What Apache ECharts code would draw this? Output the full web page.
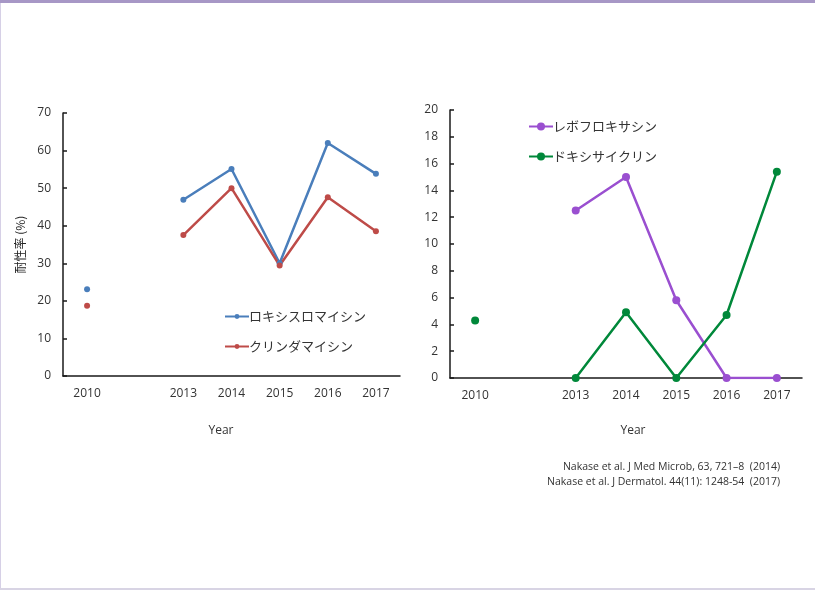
<!DOCTYPE html>
<html>
<head>
<meta charset="utf-8">
<script src="https://cdn.jsdelivr.net/npm/echarts@6/dist/echarts.min.js"></script>
<style>
  html, body { margin: 0; padding: 0; background: #fff; }
  #chart { width: 815px; height: 590px; }
</style>
</head>
<body>
<div id="chart"></div>
<script>
// Years on both panels; the blank slot keeps the gap between 2010 and 2013
const years = ['2010', '', '2013', '2014', '2015', '2016', '2017'];

// Macrolide / lincosamide resistance (%)
const roxithromycin = [23.1, null, 46.9, 55.1, 30.0, 62.0, 53.8];
const clindamycin   = [18.7, null, 37.5, 50.0, 29.4, 47.6, 38.5];

// Quinolone / tetracycline resistance (%)
const levofloxacin  = [null, null, 12.5, 15.0, 5.8, 0, 0];
const doxycycline   = [4.3, null, 0, 4.9, 0, 4.7, 15.4];

const leftTicks  = { min: 0, max: 70, interval: 10 };
const rightTicks = { min: 0, max: 20, interval: 2 };

const names = {
  rox: 'ロキシスロマイシン',
  cli: 'クリンダマイシン',
  lvx: 'レボフロキサシン',
  dox: 'ドキシサイクリン'
};

const refs = [
  'Nakase et al. J Med Microb, 63, 721\u20138  (2014)',
  'Nakase et al. J Dermatol. 44(11): 1248-54  (2017)'
];

const axisColor = '#1a1a1a';
const labelColor = '#333333';
const baseFont = '"Liberation Sans Narrow", "Open Sans", sans-serif';
const jpFont = '"Noto Sans CJK JP", sans-serif';

function xAxis(gridIndex) {
  return {
    type: 'category', gridIndex, data: years,
    boundaryGap: true,
    axisLine: { lineStyle: { color: axisColor, width: 1.5 } },
    axisTick: { inside: true, length: 5, lineStyle: { color: axisColor, width: 1.5 } },
    axisLabel: { color: labelColor, fontSize: 12, fontFamily: baseFont, margin: 12 },
    splitLine: { show: false }
  };
}

function yAxis(gridIndex, t, extra) {
  return Object.assign({
    type: 'value', gridIndex, min: t.min, max: t.max, interval: t.interval,
    axisLine: { show: true, lineStyle: { color: axisColor, width: 1.5 } },
    axisTick: { show: true, inside: true, length: 4, lineStyle: { color: axisColor, width: 1.5 } },
    axisLabel: { color: labelColor, fontSize: 12, fontFamily: baseFont, margin: 12 },
    splitLine: { show: false }
  }, extra || {});
}

function lineSeries(name, data, color, xi, size, width) {
  return {
    type: 'line', name, data,
    xAxisIndex: xi, yAxisIndex: xi,
    symbol: 'circle', symbolSize: size,
    connectNulls: false,
    lineStyle: { color, width },
    itemStyle: { color },
    emphasis: { disabled: true },
    animation: false
  };
}

const chart = echarts.init(document.getElementById('chart'), null, { renderer: 'canvas' });

chart.setOption({
  backgroundColor: '#ffffff',
  animation: false,
  grid: [
    { left: 63, right: 415, top: 113, bottom: 214 },
    { left: 450, right: 13, top: 110, bottom: 212 }
  ],
  xAxis: [xAxis(0), xAxis(1)],
  yAxis: [
    yAxis(0, leftTicks, {
      name: '耐性率 (%)', nameLocation: 'middle', nameGap: 37, nameRotate: 90,
      nameTextStyle: { color: '#222', fontSize: 12, fontFamily: jpFont }
    }),
    yAxis(1, rightTicks)
  ],
  legend: [
    {
      data: [names.rox, names.cli], orient: 'vertical', left: 219, top: 305,
      itemWidth: 24, itemHeight: 6, itemGap: 17,
      textStyle: { color: '#333', fontSize: 13, fontFamily: jpFont, padding: [0, 0, 0, -5] },
      selectedMode: false
    },
    {
      data: [names.lvx, names.dox], orient: 'vertical', left: 523, top: 115,
      itemWidth: 24, itemHeight: 10, itemGap: 17,
      textStyle: { color: '#333', fontSize: 13, fontFamily: jpFont, padding: [0, 0, 0, -5] },
      selectedMode: false
    }
  ],
  graphic: [
    { type: 'rect', left: 0, top: 0, shape: { width: 815, height: 3 }, style: { fill: '#a797c6' }, silent: true },
    { type: 'rect', left: 0, top: 3, shape: { width: 1, height: 587 }, style: { fill: '#d6d0e6' }, silent: true },
    { type: 'rect', left: 0, top: 588, shape: { width: 815, height: 2 }, style: { fill: '#d8d4e4' }, silent: true },
    { type: 'text', x: 221, y: 431, style: { text: 'Year', fill: '#333', fontSize: 12, fontFamily: baseFont, align: 'center', verticalAlign: 'middle' } },
    { type: 'text', x: 633, y: 431, style: { text: 'Year', fill: '#333', fontSize: 12, fontFamily: baseFont, align: 'center', verticalAlign: 'middle' } },
    { type: 'text', x: 780, y: 467, style: { text: refs[0], fill: '#333', fontSize: 10.5, fontFamily: baseFont, align: 'right', verticalAlign: 'middle' } },
    { type: 'text', x: 780, y: 482, style: { text: refs[1], fill: '#333', fontSize: 10.5, fontFamily: baseFont, align: 'right', verticalAlign: 'middle' } }
  ],
  series: [
    lineSeries(names.rox, roxithromycin, '#4a7ebb', 0, 6, 2.5),
    lineSeries(names.cli, clindamycin, '#be4b48', 0, 6, 2.5),
    lineSeries(names.lvx, levofloxacin, '#9a4fd0', 1, 8, 2.5),
    lineSeries(names.dox, doxycycline, '#00883a', 1, 8, 2.5)
  ]
});
</script>
</body>
</html>
